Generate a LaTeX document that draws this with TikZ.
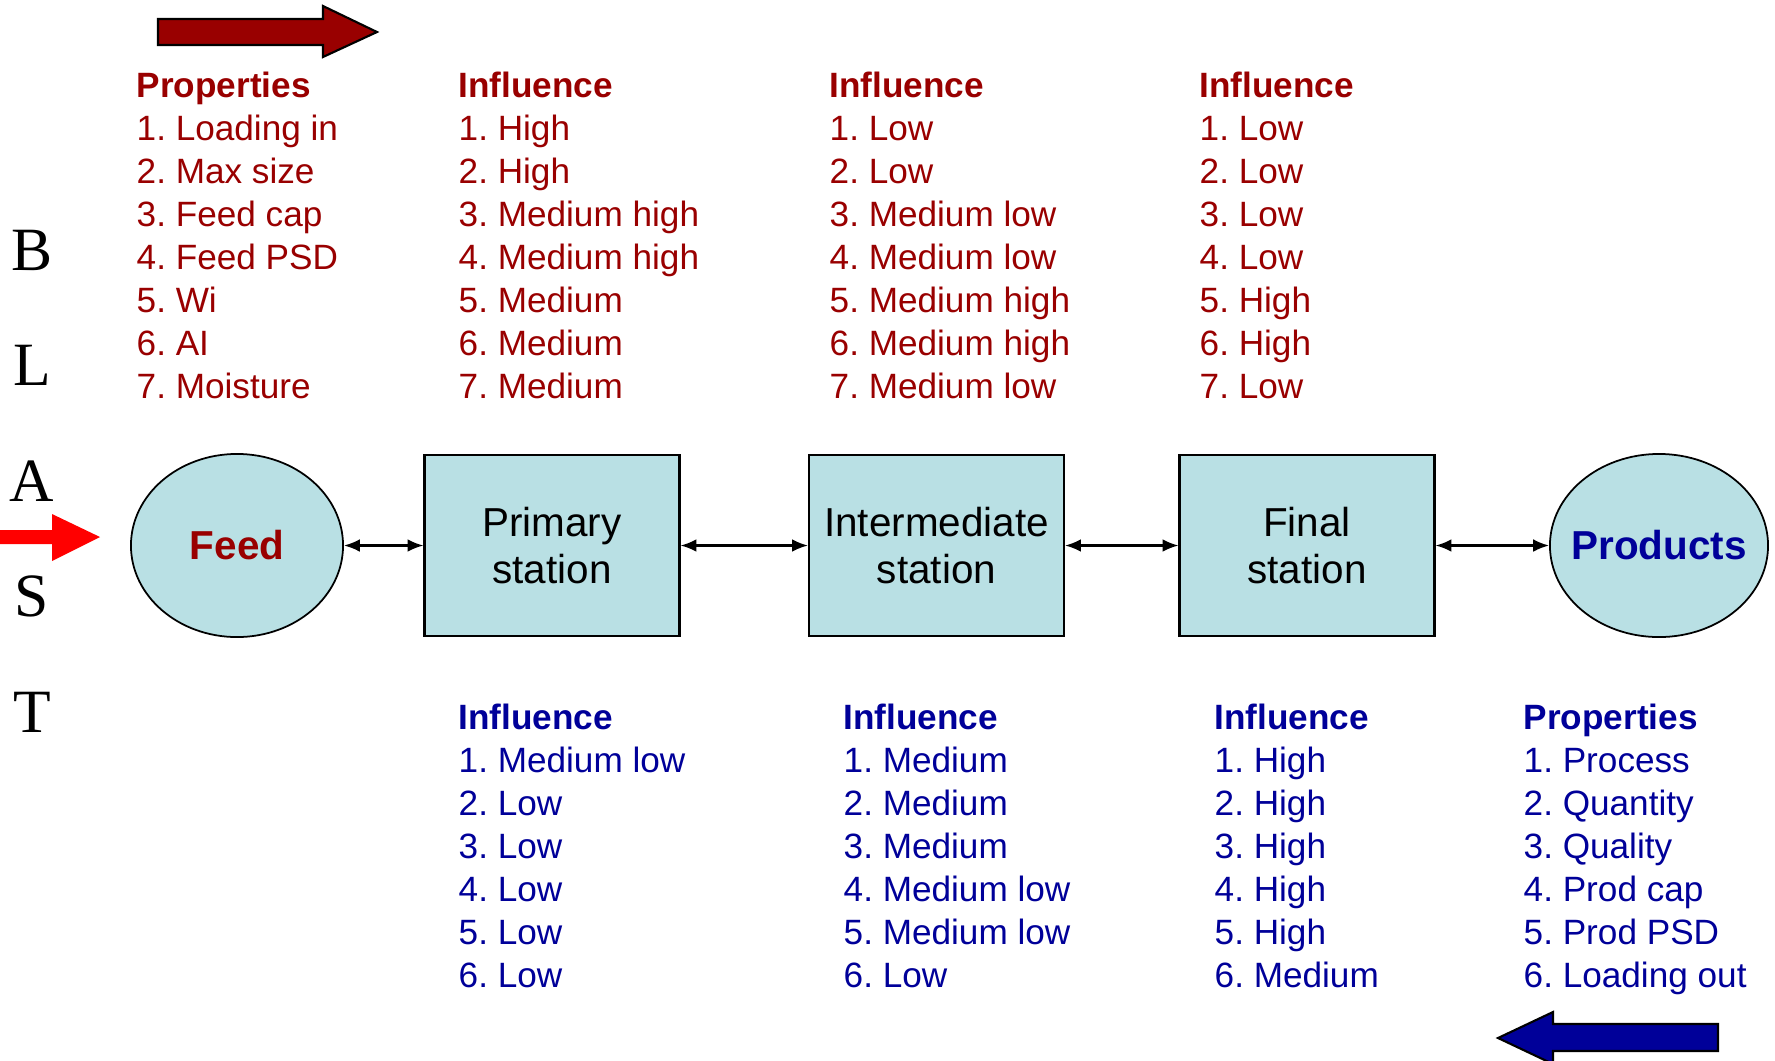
\documentclass[tikz,border=0pt]{standalone}
\usepackage{fontspec}
\setmainfont{Liberation Sans}
\newfontfamily\timesfont{Liberation Serif}
\usetikzlibrary{shapes.geometric,arrows.meta}
\frenchspacing

\definecolor{darkred}{RGB}{153,0,0}
\definecolor{darkblue}{RGB}{0,0,153}
\definecolor{stationfill}{RGB}{185,224,228}

\tikzset{
  listtxt/.style={anchor=base west, inner sep=0pt, font=\fontsize{10}{12}\selectfont},
  listhead/.style={listtxt, font=\fontsize{10}{12}\selectfont\bfseries},
  station/.style={rectangle, draw=black, line width=0.7pt, fill=stationfill,
    minimum width=2.545cm, minimum height=1.81cm, align=center,
    font=\fontsize{11.5}{13.4}\selectfont},
  endpoint/.style={ellipse, draw=black, line width=0.5pt, fill=stationfill,
    minimum height=1.83cm, inner sep=0pt, font=\fontsize{11.5}{13.4}\selectfont\bfseries},
  link/.style={{Latex[length=4.5pt,width=3.6pt]}-{Latex[length=4.5pt,width=3.6pt]}, line width=0.6pt},
  blastletter/.style={anchor=base, inner sep=0pt, font=\timesfont\fontsize{17.5}{20}\selectfont},
}

\begin{document}
\begin{tikzpicture}[x=0.01cm,y=-0.01cm]
        \useasboundingbox (0,0) rectangle (1775,1060);

        % big arrows
        \draw[fill=darkred, line width=0.6pt] (158,19) -- (323,19) -- (323,6) -- (377,32)
            -- (323,57) -- (323,45) -- (158,45) -- cycle;
        \draw[fill=darkblue, line width=0.6pt] (1718,1024) -- (1553,1024) -- (1553,1012) -- (1498,1038)
            -- (1553,1064) -- (1553,1051) -- (1718,1051) -- cycle;
        \fill[red] (0,530) -- (52,530) -- (52,514) -- (100,537) -- (52,561) -- (52,544) -- (0,544) -- cycle;

        % B L A S T
        \foreach \l [count=\i] in {B,L,A,S,T} {
            \node[blastletter] (blast\i) at (32,154.5+115.5*\i) {\l};
        }

        % process line
        \node[endpoint, minimum width=2.12cm, text=darkred] (feed) at (237,545.5) {Feed};
        \node[station] (prim) at (552,545.5) {Primary\\station};
        \node[station] (inter) at (936.5,545.5) {Intermediate\\station};
        \node[station] (final) at (1307,545.5) {Final\\station};
        \node[endpoint, minimum width=2.18cm, inner xsep=-3.5pt, text=darkblue] (prod) at (1659,545.5) {Products};

        \draw[link] (feed) -- (prim);
        \draw[link] (prim) -- (inter);
        \draw[link] (inter) -- (final);
        \draw[link] (final) -- (prod);

        % upper lists
        \foreach \x/\hd/\items [count=\c] in {
            136/Properties/{Loading in,Max size,Feed cap,Feed PSD,Wi,AI,Moisture},
            458/Influence/{High,High,Medium high,Medium high,Medium,Medium,Medium},
            829/Influence/{Low,Low,Medium low,Medium low,Medium high,Medium high,Medium low},
            1199/Influence/{Low,Low,Low,Low,High,High,Low}} {
            \node[listhead, text=darkred] (up\c) at (\x,97) {\hd};
            \foreach \t [count=\i] in \items {
                \node[listtxt, text=darkred] (up\c-\i) at (\x,97+43*\i) {\i. \t};
            }
        }

        % lower lists
        \foreach \x/\hd/\items [count=\c] in {
            458/Influence/{Medium low,Low,Low,Low,Low,Low},
            843/Influence/{Medium,Medium,Medium,Medium low,Medium low,Low},
            1214/Influence/{High,High,High,High,High,Medium},
            1523/Properties/{Process,Quantity,Quality,Prod cap,Prod PSD,Loading out}} {
            \node[listhead, text=darkblue] (low\c) at (\x,729) {\hd};
            \foreach \t [count=\i] in \items {
                \node[listtxt, text=darkblue] (low\c-\i) at (\x,729+43*\i) {\i. \t};
            }
        }
\end{tikzpicture}
\end{document}
